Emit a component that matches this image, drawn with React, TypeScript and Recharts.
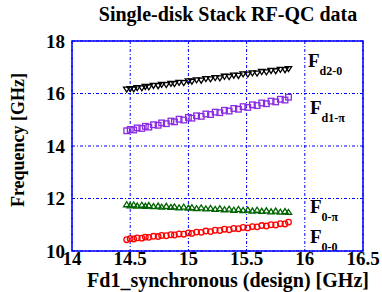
import React from "react";
import {
  CartesianGrid,
  ReferenceArea,
  Scatter,
  ScatterChart,
  XAxis,
  YAxis,
} from "recharts";

const X_TICKS = [14, 14.5, 15, 15.5, 16, 16.5];
const Y_TICKS = [10, 12, 14, 16, 18];

const FD1 = [
  14.47, 14.5, 14.53, 14.56, 14.6, 14.63, 14.66, 14.7, 14.74, 14.77, 14.81, 14.85, 14.88,
  14.92, 14.96, 15.0, 15.03, 15.07, 15.11, 15.15, 15.19, 15.23, 15.27, 15.31, 15.35, 15.39,
  15.43, 15.47, 15.51, 15.55, 15.59, 15.63, 15.67, 15.71, 15.75, 15.79, 15.83, 15.86,
];

const F_D2_0 = [
  16.16, 16.18, 16.17, 16.22, 16.21, 16.26, 16.25, 16.3, 16.29, 16.34, 16.33, 16.38, 16.37,
  16.42, 16.41, 16.47, 16.46, 16.51, 16.5, 16.56, 16.55, 16.6, 16.59, 16.65, 16.64, 16.69,
  16.68, 16.74, 16.73, 16.78, 16.77, 16.83, 16.82, 16.87, 16.86, 16.91, 16.9, 16.94,
];

const F_D1_PI = [
  14.58, 14.63, 14.61, 14.69, 14.67, 14.75, 14.72, 14.81, 14.79, 14.88, 14.85, 14.95, 14.92,
  15.02, 14.99, 15.09, 15.06, 15.15, 15.13, 15.22, 15.2, 15.29, 15.27, 15.36, 15.33, 15.43,
  15.4, 15.5, 15.47, 15.57, 15.54, 15.64, 15.61, 15.71, 15.68, 15.78, 15.75, 15.86,
];

const F_0_PI = [
  11.77, 11.73, 11.76, 11.72, 11.75, 11.71, 11.74, 11.7, 11.72, 11.68, 11.71, 11.67, 11.69,
  11.65, 11.68, 11.64, 11.66, 11.62, 11.65, 11.61, 11.63, 11.59, 11.62, 11.58, 11.6, 11.56,
  11.59, 11.55, 11.57, 11.53, 11.56, 11.52, 11.54, 11.5, 11.53, 11.49, 11.51, 11.48,
];

const F_0_0 = [
  10.43, 10.47, 10.46, 10.5, 10.49, 10.53, 10.52, 10.56, 10.55, 10.59, 10.58, 10.62, 10.61,
  10.65, 10.64, 10.69, 10.67, 10.72, 10.71, 10.76, 10.74, 10.79, 10.78, 10.83, 10.81, 10.86,
  10.85, 10.9, 10.88, 10.93, 10.92, 10.97, 10.95, 11.0, 10.99, 11.04, 11.03, 11.1,
];

const toPoints = (ys: number[]) => FD1.map((x, i) => ({ x, y: ys[i] }));

const FONT = "'Liberation Serif', 'Times New Roman', serif";
const BLUE = "#0000ff";

const downTri = (color: string) => (p: any) => {
  const { cx, cy } = p;
  return (
    <polygon
      points={`${cx - 3.2},${cy - 2.2} ${cx + 3.2},${cy - 2.2} ${cx},${cy + 2.8}`}
      fill="none"
      stroke={color}
      strokeWidth={1.3}
    />
  );
};

const upTri = (color: string) => (p: any) => {
  const { cx, cy } = p;
  return (
    <polygon
      points={`${cx - 3.2},${cy + 2.2} ${cx + 3.2},${cy + 2.2} ${cx},${cy - 2.8}`}
      fill="none"
      stroke={color}
      strokeWidth={1.3}
    />
  );
};

const square = (color: string) => (p: any) => {
  const { cx, cy } = p;
  return <rect x={cx - 2.8} y={cy - 2.8} width={5.6} height={5.6} fill="none" stroke={color} strokeWidth={1.3} />;
};

const circle = (color: string) => (p: any) => {
  const { cx, cy } = p;
  return <circle cx={cx} cy={cy} r={2.8} fill="none" stroke={color} strokeWidth={1.3} />;
};

const SubLabel = ({ x, y, sub }: { x: number; y: number; sub: string }) => (
  <text x={x} y={y} fontFamily={FONT} fontWeight="bold" fill="#000">
    <tspan fontSize={19}>F</tspan>
    <tspan fontSize={12} dy={8}>{sub}</tspan>
  </text>
);

const TICK = { fontFamily: FONT, fontWeight: "bold", fontSize: 19, fill: "#000" };

export default function App() {
  return (
    <div style={{ position: "absolute", left: 0, top: 0, width: 382, height: 292, background: "#fff" }}>
      <ScatterChart width={382} height={292} margin={{ top: 41, right: 19, bottom: 11, left: 0 }}>
        <CartesianGrid stroke={BLUE} strokeDasharray="3 2 1 2" strokeWidth={1} />
        <ReferenceArea x1={14} x2={16.5} y1={10} y2={18} fill="none" stroke={BLUE} strokeWidth={1.5} />
        <XAxis
          type="number"
          dataKey="x"
          domain={[14, 16.5]}
          ticks={X_TICKS}
          height={30}
          axisLine={false}
          tickLine={false}
          tickSize={0}
          tickMargin={1}
          tick={TICK}
        />
        <YAxis
          type="number"
          dataKey="y"
          domain={[10, 18]}
          ticks={Y_TICKS}
          width={72}
          axisLine={false}
          tickLine={false}
          tickSize={0}
          tickMargin={7}
          tick={TICK}
        />
        <Scatter data={toPoints(F_D2_0)} shape={downTri("#000000")} isAnimationActive={false} />
        <Scatter data={toPoints(F_D1_PI)} shape={square("#8a2be2")} isAnimationActive={false} />
        <Scatter data={toPoints(F_0_PI)} shape={upTri("#006400")} isAnimationActive={false} />
        <Scatter data={toPoints(F_0_0)} shape={circle("#ff0000")} isAnimationActive={false} />
        <text x={228} y={21} textAnchor="middle" fontFamily={FONT} fontWeight="bold" fontSize={20} fill="#000">
          Single-disk Stack RF-QC data
        </text>
        <text
          x={0}
          y={0}
          transform="translate(24,140) rotate(-90)"
          textAnchor="middle"
          fontFamily={FONT}
          fontWeight="bold"
          fontSize={18}
          fill="#000"
        >
          Frequency [GHz]
        </text>
        <text x={228} y={287} textAnchor="middle" fontFamily={FONT} fontWeight="bold" fontSize={20} fill="#000">
          Fd1_synchronous (design) [GHz]
        </text>
        <SubLabel x={308} y={67} sub="d2-0" />
        <SubLabel x={310} y={114} sub="d1-π" />
        <SubLabel x={310} y={213} sub="0-π" />
        <SubLabel x={310} y={243} sub="0-0" />
      </ScatterChart>
    </div>
  );
}
